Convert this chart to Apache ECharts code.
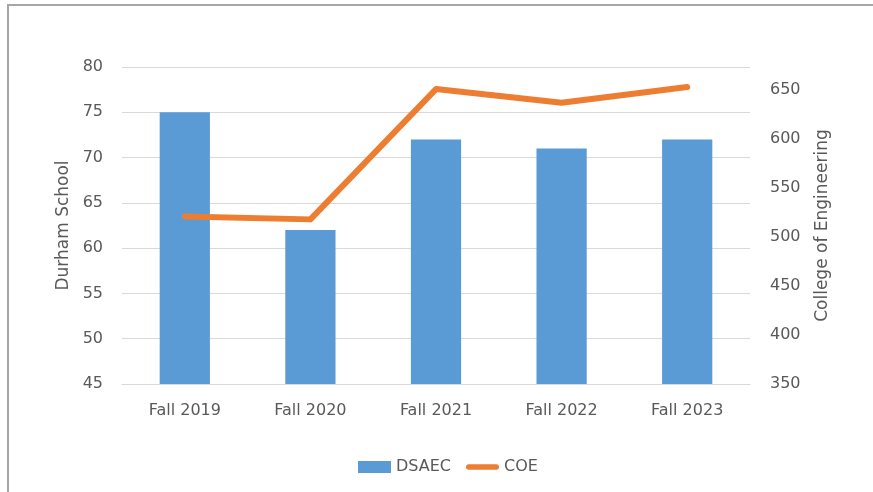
<!DOCTYPE html>
<html>
<head>
<meta charset="utf-8">
<script src="https://cdn.jsdelivr.net/npm/echarts@6/dist/echarts.min.js"></script>
<style>
  html, body { margin: 0; padding: 0; background: #fff; }
  #frame { position: absolute; left: 7px; top: 4px; width: 866px; height: 488px;
           border-top: 2px solid #a6a6a6; border-left: 2px solid #a6a6a6; }
  #chart { position: absolute; left: 0; top: 0; width: 873px; height: 492px; }
</style>
</head>
<body>
<div id="frame"></div>
<div id="chart"></div>
<script>
// data
const terms = ['Fall 2019', 'Fall 2020', 'Fall 2021', 'Fall 2022', 'Fall 2023']
const dsaec = [75, 62, 72, 71, 72]
const coe = [521, 518, 651, 637, 653]

const font = '"DejaVu Sans", "Open Sans", sans-serif'
const grey = '#595959'

const chart = echarts.init(document.getElementById('chart'))
const option = {
  animation: false,
  textStyle: { fontFamily: font },
  grid: { left: 122, right: 123, top: 67, bottom: 108 },
  legend: {
    left: 358,
    top: 459,
    padding: 0,
    itemWidth: 33,
    itemHeight: 12,
    itemGap: 15,
    textStyle: { fontSize: 16, color: grey, fontFamily: font },
    data: [
      { name: 'DSAEC', icon: 'rect' },
      { name: 'COE', icon: 'path://M3,0 L33,0 A3,3 0 0 1 33,6 L3,6 A3,3 0 0 1 3,0 Z' }
    ]
  },
  xAxis: {
    type: 'category',
    data: terms,
    axisTick: { show: false },
    axisLine: { lineStyle: { color: '#d9d9d9' } },
    axisLabel: { fontSize: 16, color: grey, margin: 19 }
  },
  yAxis: [
    {
      type: 'value',
      min: 45,
      max: 80,
      interval: 5,
      name: 'Durham School',
      nameLocation: 'middle',
      nameGap: 46,
      nameTextStyle: { fontSize: 17, color: grey },
      axisLabel: { fontSize: 16, color: grey, margin: 19 },
      axisLine: { show: false },
      axisTick: { show: false },
      splitLine: { lineStyle: { color: '#d9d9d9' } }
    },
    {
      type: 'value',
      min: 350,
      max: 673.5,
      interval: 50,
      name: 'College of Engineering',
      nameLocation: 'middle',
      nameGap: 64,
      nameTextStyle: { fontSize: 17, color: grey },
      axisLabel: { fontSize: 16, color: grey, margin: 20, showMaxLabel: false },
      axisLine: { show: false },
      axisTick: { show: false },
      splitLine: { show: false }
    }
  ],
  series: [
    {
      name: 'DSAEC',
      type: 'bar',
      data: dsaec,
      barWidth: '40%',
      itemStyle: { color: '#5b9bd5' }
    },
    {
      name: 'COE',
      type: 'line',
      yAxisIndex: 1,
      data: coe,
      symbol: 'none',
      itemStyle: { color: '#ed7d31' },
      lineStyle: { color: '#ed7d31', width: 6, cap: 'round', join: 'round' }
    }
  ]
}
chart.setOption(option)
</script>
</body>
</html>
